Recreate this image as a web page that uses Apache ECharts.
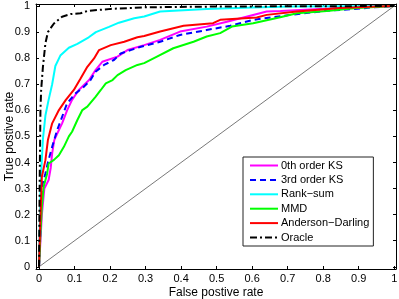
<!DOCTYPE html>
<html>
<head>
<meta charset="utf-8">
<script src="https://cdn.jsdelivr.net/npm/echarts@6/dist/echarts.min.js"></script>
<style>html,body{margin:0;padding:0;background:#fff}#c{width:399px;height:299px}</style>
</head>
<body>
<div id="c"></div>
<script>
var tickValues = [0, 0.1, 0.2, 0.3, 0.4, 0.5, 0.6, 0.7, 0.8, 0.9, 1];
var tickLabels = ['0', '0.1', '0.2', '0.3', '0.4', '0.5', '0.6', '0.7', '0.8', '0.9', '1'];
var seriesNames = ['0th order KS', '3rd order KS', 'Rank\u2212sum', 'MMD', 'Anderson\u2212Darling', 'Oracle'];

var ks0X = [0,0.004,0.008,0.015,0.027,0.033,0.037,0.043,0.051,0.065,0.079,0.093,0.112,0.141,0.159,0.178,0.221,0.249,0.296,0.341,0.397,0.472,0.529,0.641,0.68,0.847,0.94,1];
var ks0Y = [0,0.1,0.2,0.3,0.333,0.38,0.435,0.486,0.51,0.55,0.6,0.64,0.678,0.716,0.754,0.786,0.806,0.831,0.85,0.87,0.902,0.921,0.94,0.979,0.981,0.992,0.997,1];

var ks3X = [0,0.003,0.005,0.008,0.018,0.025,0.037,0.051,0.065,0.079,0.103,0.126,0.145,0.159,0.183,0.211,0.23,0.258,0.287,0.341,0.397,0.472,0.538,0.603,0.707,0.81,0.885,0.94,1];
var ks3Y = [0,0.1,0.2,0.307,0.358,0.4,0.46,0.524,0.575,0.627,0.665,0.69,0.716,0.748,0.774,0.793,0.818,0.831,0.844,0.863,0.889,0.908,0.924,0.947,0.966,0.982,0.988,0.995,1];

var rankX = [0,0.002,0.004,0.006,0.011,0.018,0.027,0.037,0.046,0.06,0.084,0.108,0.14,0.16,0.197,0.225,0.268,0.296,0.341,0.472,0.6,0.707,1];
var rankY = [0,0.15,0.28,0.36,0.49,0.58,0.64,0.70,0.77,0.81,0.84,0.855,0.88,0.9,0.92,0.936,0.953,0.96,0.979,0.989,0.994,0.998,1];

var mmdX = [0,0.002,0.004,0.008,0.013,0.023,0.027,0.042,0.056,0.07,0.084,0.093,0.108,0.122,0.136,0.159,0.174,0.188,0.207,0.221,0.244,0.277,0.296,0.332,0.378,0.435,0.472,0.51,0.543,0.603,0.679,0.726,0.81,0.894,1];
var mmdY = [0,0.06,0.128,0.23,0.307,0.358,0.396,0.41,0.428,0.46,0.5,0.518,0.563,0.601,0.614,0.652,0.678,0.703,0.716,0.735,0.754,0.774,0.781,0.806,0.838,0.863,0.883,0.896,0.921,0.934,0.957,0.972,0.981,0.992,1];

var adX = [0,0.002,0.004,0.008,0.018,0.025,0.037,0.056,0.075,0.098,0.117,0.136,0.155,0.169,0.202,0.24,0.277,0.296,0.341,0.407,0.49,0.51,0.613,0.641,0.726,0.847,0.95,1];
var adY = [0,0.1,0.192,0.345,0.409,0.486,0.55,0.601,0.639,0.678,0.722,0.767,0.799,0.831,0.85,0.863,0.88,0.885,0.902,0.924,0.934,0.947,0.956,0.966,0.979,0.992,0.998,1];

var oracleX = [0,0.002,0.004,0.006,0.011,0.018,0.025,0.042,0.065,0.089,0.117,0.136,0.202,0.3,0.5,1];
var oracleY = [0,0.35,0.6,0.678,0.767,0.857,0.9,0.933,0.959,0.969,0.972,0.981,0.989,0.995,0.998,1];

var diagX = [0, 1];
var diagY = [0, 1];

function zip(xs, ys) { return xs.map(function (x, i) { return [x, ys[i]]; }); }

var FONT = 'Liberation Sans';
function mkAxis(pos, isX, showLabel, name) {
  var a = {
    type: 'value',
    position: pos,
    min: isX ? -0.0085 : -0.0084,
    max: isX ? 1.005 : 1.0077,
    axisLine: { show: true, onZero: false, lineStyle: { color: '#000', width: 1 } },
    axisTick: { show: true, inside: true, length: 3, customValues: tickValues, lineStyle: { color: '#000', width: 1 } },
    axisLabel: {
      show: showLabel, customValues: tickValues, margin: isX ? 4 : 6,
      fontSize: 11, fontFamily: FONT, color: '#000',
      formatter: function (v) { var i = tickValues.indexOf(v); return i >= 0 ? tickLabels[i] : ''; }
    },
    splitLine: { show: false }
  };
  if (name) {
    a.name = name;
    a.nameLocation = 'middle';
    a.nameGap = isX ? 18 : 20;
    a.nameMoveOverlap = false;
    a.nameTextStyle = { fontSize: 12, fontFamily: FONT, color: '#000' };
  }
  return a;
}

var lineW = 2;
var option = {
  animation: false,
  backgroundColor: '#fff',
  grid: { left: 36, right: 3, top: 4, bottom: 30, containLabel: false, outerBoundsMode: 'none' },
  xAxis: [mkAxis('bottom', true, true, 'False postive rate'), mkAxis('top', true, false, null)],
  yAxis: [mkAxis('left', false, true, 'True postive rate'), mkAxis('right', false, false, null)],
  legend: {
    data: seriesNames,
    orient: 'vertical',
    left: 243, top: 157,
    padding: [3, 4, 3, 6],
    icon: 'inherit',
    itemStyle: { opacity: 0 },
    itemWidth: 28, itemHeight: 12, itemGap: 3.4,
    borderColor: '#222', borderWidth: 1, backgroundColor: '#fff',
    textStyle: { fontSize: 11, fontFamily: FONT, color: '#000', padding: [0, 0, 0, -2] }
  },
  series: [
    { name: 'diag', type: 'line', data: zip(diagX, diagY), symbol: 'none', silent: true,
      lineStyle: { color: '#555', width: 0.8 } },
    { name: seriesNames[0], type: 'line', data: zip(ks0X, ks0Y), symbol: 'none',
      lineStyle: { color: '#ff00ff', width: lineW }, itemStyle: { color: '#ff00ff' } },
    { name: seriesNames[1], type: 'line', data: zip(ks3X, ks3Y), symbol: 'none',
      lineStyle: { color: '#0000ff', width: lineW, type: [6, 4] }, itemStyle: { color: '#0000ff' } },
    { name: seriesNames[2], type: 'line', data: zip(rankX, rankY), symbol: 'none',
      lineStyle: { color: '#00ffff', width: lineW }, itemStyle: { color: '#00ffff' } },
    { name: seriesNames[3], type: 'line', data: zip(mmdX, mmdY), symbol: 'none',
      lineStyle: { color: '#00ff00', width: lineW }, itemStyle: { color: '#00ff00' } },
    { name: seriesNames[4], type: 'line', data: zip(adX, adY), symbol: 'none',
      lineStyle: { color: '#ff0000', width: lineW }, itemStyle: { color: '#ff0000' } },
    { name: seriesNames[5], type: 'line', data: zip(oracleX, oracleY), symbol: 'none',
      lineStyle: { color: '#000', width: lineW, type: [7, 3, 2, 3] }, itemStyle: { color: '#000' } }
  ]
};
var chart = echarts.init(document.getElementById('c'), null, { renderer: 'canvas' });
chart.setOption(option);
</script>
</body>
</html>
